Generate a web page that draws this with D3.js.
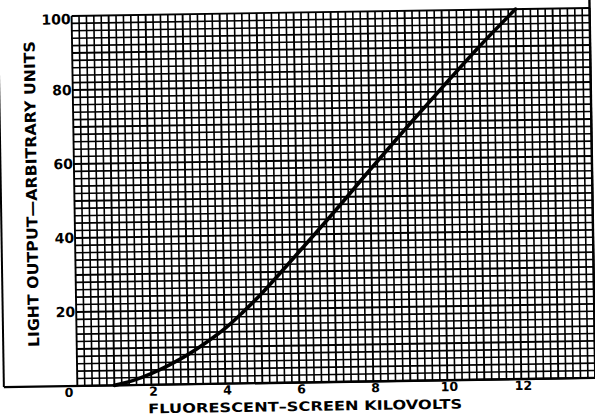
<!DOCTYPE html>
<html>
<head>
<meta charset="utf-8">
<script src="https://cdn.jsdelivr.net/npm/d3@7"></script>
<style>
  body { margin: 0; background: #fff; }
  svg { display: block; }
  text { font-family: "DejaVu Sans", sans-serif; font-weight: bold; fill: #000; }
</style>
</head>
<body>
<svg id="chart" width="595" height="416"></svg>
<script>
// values
var kilovolts = [1.0, 1.5, 2.0, 2.5, 3.0, 3.5, 4.0, 4.5, 5.0, 6.0, 7.0, 8.0, 9.0, 10.0, 11.0, 12.0];
var lightOutput = [0, 1.2, 3.0, 5.3, 8.0, 11.2, 14.8, 19.2, 24.0, 34.8, 45.8, 57.2, 68.4, 79.3, 90.0, 100];
var xTicks = [0, 2, 4, 6, 8, 10, 12];
var yTicks = [20, 40, 60, 80, 100];
var xTitle = "FLUORESCENT\u2013SCREEN KILOVOLTS";
var yTitle = "LIGHT OUTPUT\u2014ARBITRARY UNITS";

function drawChart(svgID) {
  var svg = d3.select(svgID);
  var left = 74.5, top = 12, bottom = 382;

  var x = d3.scaleLinear().domain([0, 14]).range([left, left + 14 * 37]);
  var y = d3.scaleLinear().domain([0, 100]).range([bottom, top]);

  // the scanned page sits slightly rotated
  var g = svg.append("g").attr("transform", "rotate(-0.89,330,200)");

  var grid = g.append("g").attr("class", "grid");

  grid.selectAll("line.v")
    .data(d3.range(0, 71))
    .enter()
    .append("line")
    .attr("class", "v")
    .attr("x1", function(i) { return x(i * 0.2); })
    .attr("x2", function(i) { return x(i * 0.2); })
    .attr("y1", y(100))
    .attr("y2", y(0))
    .attr("stroke", "#000")
    .attr("stroke-width", function(i) { return i % 5 == 0 ? 1.9 : 1.6; });

  grid.selectAll("line.h")
    .data(d3.range(0, 51))
    .enter()
    .append("line")
    .attr("class", "h")
    .attr("x1", x(0))
    .attr("x2", x(14))
    .attr("y1", function(i) { return y(i * 2); })
    .attr("y2", function(i) { return y(i * 2); })
    .attr("stroke", "#000")
    .attr("stroke-width", function(i) { return i % 5 == 0 ? 1.9 : 1.6; });

  // outer frame: bottom rule, left page line, right edge
  g.append("line")
    .attr("x1", 1).attr("x2", x(14))
    .attr("y1", y(0)).attr("y2", y(0))
    .attr("stroke", "#000").attr("stroke-width", 2.4);
  g.append("line")
    .attr("x1", 1).attr("x2", 1)
    .attr("y1", -30).attr("y2", y(0))
    .attr("stroke", "#000").attr("stroke-width", 2);
  g.append("line")
    .attr("x1", x(14)).attr("x2", x(14))
    .attr("y1", -20).attr("y2", y(0))
    .attr("stroke", "#000").attr("stroke-width", 2.4);

  var xAxis = g.append("g")
    .attr("transform", "translate(0," + y(0) + ")")
    .call(d3.axisBottom(x).tickValues(xTicks).tickSize(0).tickPadding(2).tickFormat(d3.format("d")));
  xAxis.select(".domain").remove();
  xAxis.selectAll("text")
    .attr("font-size", 12.5)
    .attr("font-family", "DejaVu Sans")
    .attr("dx", function(d) { return d == 0 ? -9 : 1.5; });

  var yAxis = g.append("g")
    .attr("transform", "translate(" + (x(0) - 1) + ",0)")
    .call(d3.axisLeft(y).tickValues(yTicks).tickSize(0).tickPadding(0).tickFormat(d3.format("d")));
  yAxis.select(".domain").remove();
  yAxis.selectAll("text")
    .attr("font-size", 14)
    .attr("font-family", "DejaVu Sans")
    .attr("dy", function(d) { return d == 100 ? "0.55em" : "0.32em"; });

  g.append("text")
    .attr("x", 302)
    .attr("y", 410.5)
    .attr("text-anchor", "middle")
    .attr("font-size", 13)
    .attr("textLength", 314)
    .attr("lengthAdjust", "spacingAndGlyphs")
    .text(xTitle);

  g.append("text")
    .attr("transform", "translate(37,189.5) rotate(-90)")
    .attr("text-anchor", "middle")
    .attr("font-size", 15)
    .attr("textLength", 306)
    .attr("lengthAdjust", "spacingAndGlyphs")
    .text(yTitle);

  var points = kilovolts.map(function(k, i) { return [k, lightOutput[i]]; });
  var line = d3.line()
    .x(function(d) { return x(d[0]); })
    .y(function(d) { return y(d[1]); })
    .curve(d3.curveCatmullRom);

  g.append("path")
    .datum(points)
    .attr("d", line)
    .attr("fill", "none")
    .attr("stroke", "#000")
    .attr("stroke-width", 3.6)
    .attr("stroke-linecap", "round");
}

drawChart("#chart");
</script>
</body>
</html>
